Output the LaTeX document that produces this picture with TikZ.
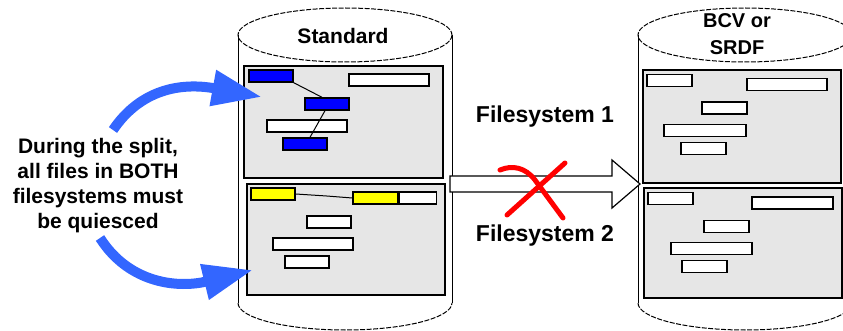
\documentclass[tikz,border=0pt]{standalone}
\usepackage{fontspec}
\setmainfont{Liberation Sans}
\usetikzlibrary{arrows.meta,calc}
\definecolor{panelgray}{RGB}{230,230,230}
\definecolor{arrowblue}{RGB}{51,102,255}
\definecolor{barblue}{RGB}{0,0,255}
\definecolor{baryellow}{RGB}{255,255,0}
\definecolor{xred}{RGB}{255,0,0}
\tikzset{
  cylside/.style={draw=black,line width=1pt},
  cyltop/.style={draw=black,line width=1pt,dash pattern=on 5pt off 1.5pt},
  panel/.style={draw=black,line width=1.5pt,fill=panelgray},
  bar/.style={draw=black,line width=1.4pt,fill=white,inner sep=0pt,minimum height=12pt},
  lbl/.style={font=\bfseries\fontsize{21}{25}\selectfont,align=center,inner sep=0pt},
  bigblue/.style={draw=arrowblue,line width=10pt,-{Triangle[length=50pt,width=34pt]}},
  xstroke/.style={draw=xred,line width=5pt,line cap=round},
  hollow/.style={draw=black,line width=1.2pt,fill=white}
}
\begin{document}
\begin{tikzpicture}[x=1pt,y=-1pt]
\useasboundingbox (0,0) rectangle (843,331);
\clip (0,0) rectangle (843,331);
% left cylinder
\draw[cylside] (238,35) -- (238,303);
\draw[cylside] (452,35) -- (452,303);
\draw[cyltop] (345,35) ellipse [x radius=107,y radius=27];
\draw[cyltop] (238,303) arc[start angle=180,end angle=360,x radius=107,y radius=-27];
\node[lbl] (std) at (343,36) {Standard};
% right cylinder
\draw[cylside] (638,35) -- (638,303);
\draw[cylside] (852,35) -- (852,303);
\draw[cyltop] (745,35) ellipse [x radius=107,y radius=27];
\draw[cyltop] (638,303) arc[start angle=180,end angle=360,x radius=107,y radius=-27];
\node[lbl,font=\bfseries\fontsize{20}{27}\selectfont] (bcv) at (737,34) {BCV or\\SRDF};
% left panels
\draw[panel] (244,66) rectangle (443,178);
\draw[panel] (247,184) rectangle (445,295);
\node[bar,fill=barblue,minimum width=44pt] (b1) at (271,76) {};
\node[bar,minimum width=80pt] (w1) at (389,80) {};
\node[bar,fill=barblue,minimum width=44pt] (b2) at (327,104) {};
\node[bar,minimum width=80pt] (w2) at (307,126) {};
\node[bar,fill=barblue,minimum width=44pt] (b3) at (305,144) {};
\draw[line width=1pt] (b1.south east) -- ($(b2.north)+(-5,0)$);
\draw[line width=1pt] ($(b2.south)+(-2,0)$) -- ($(b3.north)+(5,0)$);
\node[bar,fill=baryellow,minimum width=44pt] (y1) at (273,194) {};
\node[bar,fill=baryellow,minimum width=45pt] (y2) at (375.5,198) {};
\node[bar,minimum width=37pt,anchor=west] (w3) at (y2.east) {};
\draw[line width=1pt] (y1.east) -- ++(31,2) -- (y2.west);
\node[bar,minimum width=44pt] (w4) at (329,222) {};
\node[bar,minimum width=80pt] (w5) at (313,244) {};
\node[bar,minimum width=44pt] (w6) at (307,262) {};
% right panels
\draw[panel] (643,70) rectangle (841,183);
\draw[panel] (644,188) rectangle (842,298);
\node[bar,minimum width=45pt] (r1) at (669.5,80.5) {};
\node[bar,minimum width=80pt] (r2) at (787,84.5) {};
\node[bar,minimum width=45pt] (r3) at (724.5,108) {};
\node[bar,minimum width=82pt] (r4) at (705,130.5) {};
\node[bar,minimum width=45pt] (r5) at (703.5,148.5) {};
\node[bar,minimum width=45pt] (s1) at (670.5,198.5) {};
\node[bar,minimum width=81pt] (s2) at (792.5,203) {};
\node[bar,minimum width=45pt] (s3) at (726.5,226.5) {};
\node[bar,minimum width=81pt] (s4) at (711.5,248.5) {};
\node[bar,minimum width=45pt] (s5) at (704.5,266.5) {};
% hollow arrow
\draw[hollow] (450,176) -- (612,176) -- (612,160) -- (640,184) -- (612,208) -- (612,192) -- (450,192) -- cycle;
% labels
\node[lbl,font=\bfseries\fontsize{23}{25}\selectfont] (fs1) at (545,117) {Filesystem 1};
\node[lbl,font=\bfseries\fontsize{23}{25}\selectfont] (fs2) at (545,236) {Filesystem 2};
% red X
\draw[xstroke] (500,170) .. controls (512,165) and (525,167) .. (535,180) -- (563,218);
\draw[xstroke] (565,163) -- (507,215);
% left note
\node[lbl,font=\bfseries\fontsize{21}{25}\selectfont] (note) at (98,186) {During the split,\\all files in BOTH\\filesystems must\\be quiesced};
% blue arrows
\coordinate (ua) at (113,130);
\coordinate (ut) at (262,97);
\coordinate (la) at (100,238);
\coordinate (lt) at (253,270);
\draw[bigblue] (ua) .. controls (140,90) and (180,82) .. (ut);
\draw[bigblue] (la) .. controls (130,285) and (180,288) .. (lt);
\end{tikzpicture}
\end{document}
